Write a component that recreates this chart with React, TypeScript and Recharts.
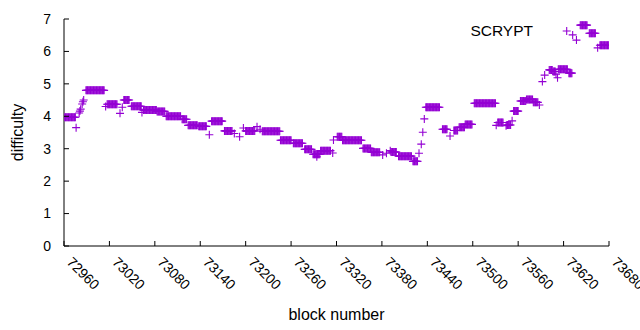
import { Legend, Scatter, ScatterChart, XAxis, YAxis } from "recharts";

const seriesName = "SCRYPT";
const purple = "#9400d3";

const blockTicks = [
  72960, 73020, 73080, 73140, 73200, 73260, 73320, 73380, 73440, 73500, 73560, 73620, 73680,
];
const difficultyTicks = [0, 1, 2, 3, 4, 5, 6, 7];

// [first block, last block, difficulty] - difficulty stays flat within a run
const runs: [number, number, number][] = [
  [72961, 72975, 3.97], [72976, 72976, 3.65], [72980, 72980, 4.1], [72981, 72981, 4.16],
  [72982, 72982, 4.22], [72984, 72984, 4.38], [72985, 72985, 4.45], [72986, 72986, 4.5],
  [72989, 73013, 4.8], [73015, 73015, 4.3], [73017, 73030, 4.37], [73034, 73034, 4.09],
  [73037, 73037, 4.28], [73039, 73046, 4.5], [73049, 73062, 4.31], [73063, 73063, 4.12],
  [73065, 73082, 4.19], [73083, 73093, 4.15], [73095, 73114, 4.0], [73116, 73122, 3.91],
  [73124, 73136, 3.72], [73138, 73148, 3.69], [73152, 73152, 3.43], [73155, 73169, 3.85],
  [73172, 73182, 3.55], [73185, 73185, 3.47], [73192, 73192, 3.37], [73197, 73197, 3.64],
  [73200, 73212, 3.55], [73215, 73215, 3.68], [73219, 73219, 3.6], [73222, 73245, 3.54],
  [73246, 73260, 3.26], [73263, 73275, 3.17], [73278, 73287, 2.98], [73289, 73298, 2.83],
  [73294, 73294, 2.75], [73299, 73312, 2.94], [73315, 73315, 2.87], [73316, 73316, 3.27],
  [73321, 73327, 3.37], [73328, 73353, 3.26], [73355, 73365, 3.01], [73366, 73377, 2.89],
  [73381, 73381, 2.81], [73386, 73386, 2.86], [73391, 73391, 2.94], [73392, 73399, 2.9],
  [73402, 73419, 2.77], [73421, 73427, 2.61], [73429, 73429, 2.86], [73432, 73432, 3.14],
  [73434, 73434, 3.51], [73436, 73436, 3.92], [73438, 73456, 4.28], [73460, 73466, 3.6],
  [73470, 73470, 3.39], [73475, 73480, 3.56], [73482, 73489, 3.66], [73490, 73499, 3.75],
  [73502, 73530, 4.4], [73531, 73531, 3.72], [73533, 73540, 3.81], [73544, 73544, 3.71],
  [73545, 73550, 3.73], [73552, 73552, 3.86], [73554, 73560, 4.16], [73563, 73570, 4.47],
  [73571, 73579, 4.52], [73580, 73586, 4.43], [73588, 73588, 4.35], [73592, 73592, 5.07],
  [73595, 73595, 5.27], [73601, 73605, 5.43], [73606, 73609, 5.38], [73610, 73610, 5.3],
  [73612, 73612, 5.19], [73613, 73625, 5.45], [73627, 73631, 5.33], [73632, 73632, 6.51],
  [73637, 73637, 6.35], [73642, 73651, 6.81], [73654, 73662, 6.56], [73665, 73665, 6.11],
  [73668, 73680, 6.19],
];

// one point per block
const points: { block: number; difficulty: number }[] = [];
runs.forEach(([first, last, difficulty]) => {
  for (let b = first; b <= last; b++) points.push({ block: b, difficulty });
});

const Plus = (props: any) => {
  const { cx, cy } = props;
  if (cx == null || cy == null) return <g />;
  return (
    <path
      d={`M${cx - 4},${cy}h8M${cx},${cy - 4}v8`}
      stroke={purple}
      strokeWidth={1.1}
      fill="none"
    />
  );
};

const BottomTick = ({ x, y, payload }: any) => (
  <g>
    <line x1={x} y1={y} x2={x} y2={y - 5} stroke="#000" />
    <text
      x={x + 2}
      y={y + 17}
      transform={`rotate(45, ${x + 2}, ${y + 17})`}
      textAnchor="start"
      fontSize={14}
      fill="#000"
    >
      {payload.value}
    </text>
  </g>
);

const TopTick = ({ x, y }: any) => <line x1={x} y1={y} x2={x} y2={y + 5} stroke="#000" />;

const LeftTick = ({ x, y, payload }: any) => (
  <g>
    <line x1={x} y1={y} x2={x + 5} y2={y} stroke="#000" />
    <text x={x - 13} y={y} dy="0.35em" textAnchor="end" fontSize={14} fill="#000">
      {payload.value}
    </text>
  </g>
);

const RightTick = ({ x, y }: any) => <line x1={x} y1={y} x2={x - 5} y2={y} stroke="#000" />;

const KeyBox = () => (
  <div style={{ display: "flex", alignItems: "center", height: 18 }}>
    <span style={{ width: 93, textAlign: "right", fontSize: 15.5, color: "#000" }}>{seriesName}</span>
    <svg width={47} height={18}>
      <path d="M29.7,9h8M33.7,5v8" stroke={purple} strokeWidth={1.1} fill="none" />
    </svg>
  </div>
);

export default function App() {
  return (
    <div
      style={{
        position: "absolute",
        left: 0,
        top: 0,
        background: "#fff",
        fontFamily: "'Liberation Sans', Arial, sans-serif",
      }}
    >
      <ScatterChart width={640} height={330} margin={{ top: 19, right: 31, bottom: 0, left: 0 }}>
        <XAxis
          xAxisId="b"
          type="number"
          dataKey="block"
          domain={[72960, 73680]}
          ticks={blockTicks}
          allowDataOverflow
          height={84}
          tickSize={0}
          tickMargin={0}
          tickLine={false}
          tick={BottomTick}
          axisLine={{ stroke: "#000" }}
          label={{ value: "block number", position: "insideBottom", offset: 10, fontSize: 16, fill: "#000" }}
        />
        <XAxis
          xAxisId="t"
          orientation="top"
          type="number"
          dataKey="block"
          domain={[72960, 73680]}
          ticks={blockTicks}
          allowDataOverflow
          height={0}
          tickSize={0}
          tickMargin={0}
          tickLine={false}
          tick={TopTick}
          axisLine={{ stroke: "#000" }}
        />
        <YAxis
          yAxisId="l"
          type="number"
          dataKey="difficulty"
          domain={[0, 7]}
          ticks={difficultyTicks}
          width={64}
          tickSize={0}
          tickMargin={0}
          tickLine={false}
          tick={LeftTick}
          axisLine={{ stroke: "#000" }}
          label={{
            value: "difficulty",
            angle: -90,
            position: "insideLeft",
            offset: 17,
            fontSize: 16,
            fill: "#000",
            style: { textAnchor: "middle" },
          }}
        />
        <YAxis
          yAxisId="r"
          orientation="right"
          type="number"
          dataKey="difficulty"
          domain={[0, 7]}
          ticks={difficultyTicks}
          width={0}
          tickSize={0}
          tickMargin={0}
          tickLine={false}
          tick={RightTick}
          axisLine={{ stroke: "#000" }}
        />
        <Legend
          layout="vertical"
          align="center"
          verticalAlign="middle"
          wrapperStyle={{ left: 440, top: 22, width: 140, height: 18 }}
          content={KeyBox}
        />
        <Scatter
          name={seriesName}
          data={points}
          xAxisId="b"
          yAxisId="l"
          shape={Plus}
          isAnimationActive={false}
        />
      </ScatterChart>
    </div>
  );
}
